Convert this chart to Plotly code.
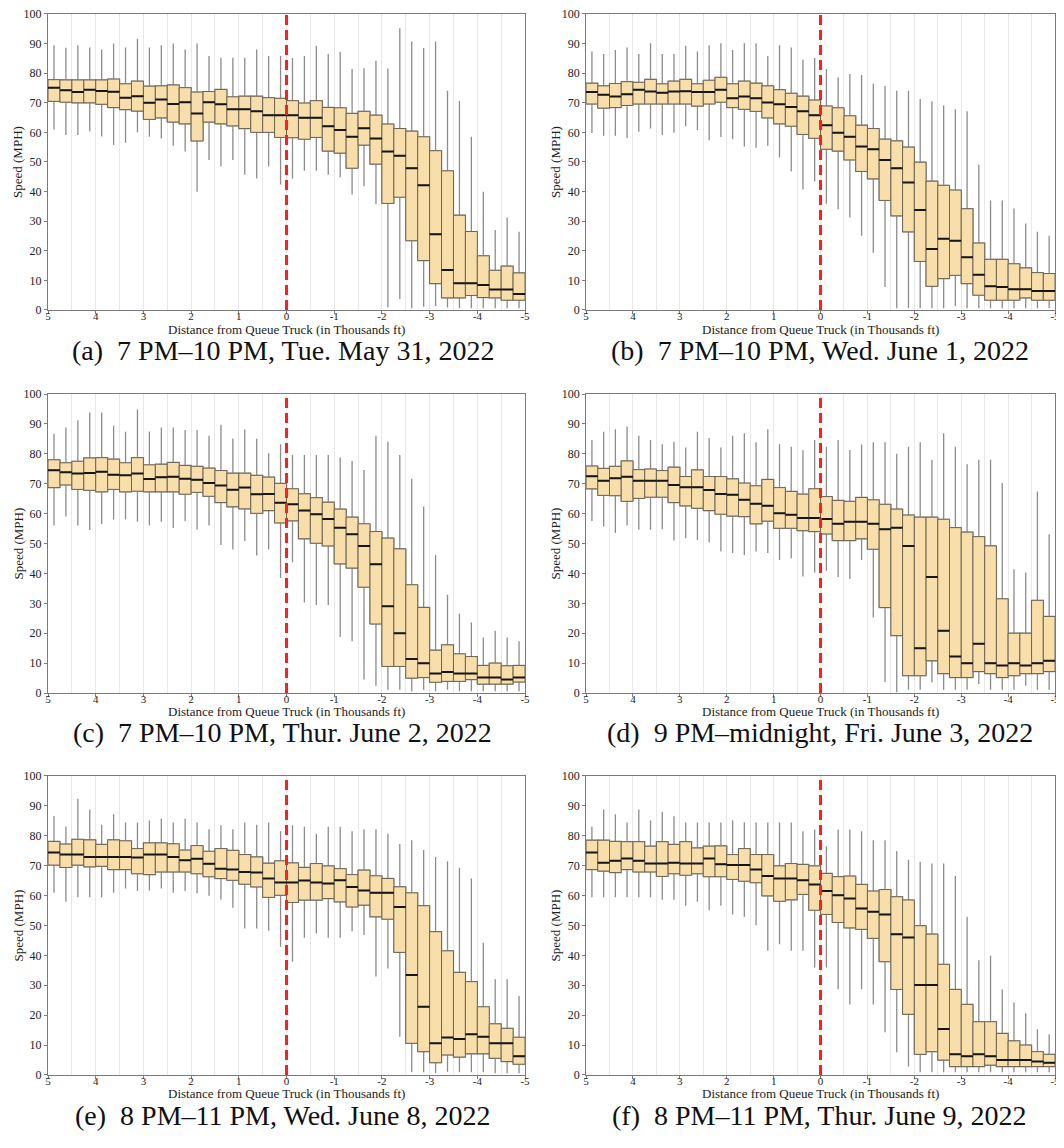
import plotly.graph_objects as go

# Distance bins (thousands of ft from queue truck), 0.25 wide
DIST = [4.875, 4.625, 4.375, 4.125, 3.875, 3.625, 3.375, 3.125, 2.875, 2.625,
        2.375, 2.125, 1.875, 1.625, 1.375, 1.125, 0.875, 0.625, 0.375, 0.125,
        -0.125, -0.375, -0.625, -0.875, -1.125, -1.375, -1.625, -1.875, -2.125, -2.375,
        -2.625, -2.875, -3.125, -3.375, -3.625, -3.875, -4.125, -4.375, -4.625, -4.875]

X_TICKS = [5, 4, 3, 2, 1, 0, -1, -2, -3, -4, -5]
X_TICK_TEXT = ["5", "4", "3", "2", "1", "0", "-1", "-2", "-3", "-4", "-5"]
X_MINOR = [4.5, 3.5, 2.5, 1.5, 0.5, -0.5, -1.5, -2.5, -3.5, -4.5]
Y_TICKS = [0, 10, 20, 30, 40, 50, 60, 70, 80, 90, 100]

X_TITLE = "Distance from Queue Truck (in Thousands ft)"
Y_TITLE = "Speed (MPH)"
CAPTIONS = ["(a)  7 PM\u201310 PM, Tue. May 31, 2022",
            "(b)  7 PM\u201310 PM, Wed. June 1, 2022",
            "(c)  7 PM\u201310 PM, Thur. June 2, 2022",
            "(d)  9 PM\u2013midnight, Fri. June 3, 2022",
            "(e)  8 PM\u201311 PM, Wed. June 8, 2022",
            "(f)  8 PM\u201311 PM, Thur. June 9, 2022"]

# ---- (a) ----
a_hi = [89.4,88.6,89.4,88.7,88.0,90.0,88.7,91.6,88.7,89.4,90.0,88.0,90.0,85.8,85.2,85.2,85.2,88.0,85.8,85.8,
        85.1,85.8,89.3,86.5,87.2,81.4,81.7,84.2,81.6,95.2,90.7,88.5,90.7,74.1,70.6,58.5,39.9,27.0,31.2,26.4]
a_q3 = [77.8,77.7,77.7,77.7,77.7,78.0,76.4,77.3,75.6,75.7,76.0,75.1,73.6,73.8,74.5,72.0,72.2,72.2,71.7,71.5,
        70.7,69.9,70.7,68.4,68.3,66.4,67.1,65.8,62.8,61.3,60.4,58.5,53.8,47.0,32.0,26.5,18.3,13.4,14.8,12.5]
a_med = [75.1,74.2,73.6,74.4,74.0,73.7,71.7,72.2,70.0,71.1,69.6,70.2,66.4,70.2,69.5,67.8,67.8,67.1,65.8,65.8,
         65.8,64.9,64.9,62.1,60.8,58.5,61.4,57.9,53.5,52.1,47.9,42.1,25.6,13.5,9.0,9.0,8.4,6.9,6.9,5.4]
a_q1 = [70.5,70.2,70.0,70.0,69.5,68.4,67.7,67.2,64.4,64.9,63.5,62.9,57.1,63.5,62.9,62.2,61.3,60.0,60.0,58.3,
        58.2,57.7,58.3,53.7,53.0,47.9,55.7,49.3,36.0,38.1,23.4,16.7,8.9,4.1,4.1,4.9,4.2,4.1,3.3,3.3]
a_lo = [61.0,59.1,59.1,60.4,58.6,55.7,56.5,60.0,58.5,57.9,55.5,53.5,39.9,50.7,48.5,50.7,45.7,44.4,48.5,42.4,
        44.3,47.0,47.0,45.7,44.8,39.0,41.8,35.7,0.9,3.7,0.6,1.1,1.3,0.8,0.6,0.6,0.6,0.6,0.6,0.6]

# ---- (b) ----
b_hi = [87.3,86.5,87.8,88.7,86.5,90.1,86.5,86.5,89.3,87.3,89.4,90.1,87.8,90.1,90.1,85.8,89.4,88.7,84.5,85.1,
        81.4,78.6,79.7,79.4,76.4,75.7,74.1,74.1,71.3,70.5,69.1,67.8,67.1,49.1,37.0,37.0,34.3,29.2,26.4,25.1]
b_q3 = [76.6,75.7,76.5,77.1,76.9,77.9,76.4,77.3,77.9,76.4,77.6,78.6,76.4,77.3,76.6,75.7,74.4,73.2,72.2,70.9,
        68.9,68.3,65.6,62.4,61.3,57.7,57.1,55.0,49.9,43.5,42.1,40.5,34.2,22.6,17.1,17.1,15.6,14.2,12.6,12.3]
b_med = [73.6,72.7,72.1,72.9,74.4,73.8,73.4,73.8,73.9,73.6,73.6,74.4,71.5,72.1,71.5,70.1,69.5,68.6,67.1,65.8,
         62.4,59.9,58.5,55.2,54.3,50.7,47.9,43.1,33.8,20.6,24.1,23.4,17.8,11.9,8.0,7.8,7.0,7.0,6.4,6.4]
b_q1 = [69.6,68.2,68.4,69.1,69.6,69.6,69.6,69.6,69.6,68.9,69.6,70.2,68.4,67.8,67.1,64.9,62.9,62.1,59.3,58.0,
        54.3,53.7,50.7,46.8,44.3,37.0,31.8,26.4,16.4,8.0,10.6,11.7,8.9,5.0,3.3,3.3,3.3,4.1,3.3,3.3]
b_lo = [59.8,58.9,58.9,58.0,60.2,61.3,59.1,59.9,62.1,60.8,57.3,58.4,57.7,55.2,54.8,55.5,51.5,46.8,40.7,43.5,
        35.9,34.0,31.2,25.1,19.3,7.8,0.6,0.6,0.6,0.6,0.6,1.3,0.6,0.6,0.6,0.6,0.6,0.6,0.6,0.6]

# ---- (c) ----
c_hi = [86.7,88.8,91.2,93.8,93.8,89.4,87.4,94.8,87.5,88.8,88.8,88.0,88.0,86.0,89.7,85.1,88.1,85.0,80.2,83.2,
        79.6,79.6,79.6,79.6,78.8,77.6,74.6,86.0,84.0,79.6,71.7,62.4,46.2,32.9,26.5,23.6,18.6,20.8,18.6,17.3]
c_q3 = [78.0,77.0,77.5,78.6,78.7,78.2,77.0,78.7,76.3,76.5,77.1,76.1,75.8,75.2,74.4,73.5,73.5,72.8,72.2,70.1,
        68.3,66.6,65.3,63.8,61.5,58.8,56.6,54.0,51.8,48.2,36.2,28.6,14.3,16.1,13.1,12.2,9.2,10.0,9.1,9.2]
c_med = [74.5,73.8,73.4,73.6,74.0,73.0,72.8,73.4,71.6,72.2,72.3,71.7,71.3,70.2,69.4,68.0,68.7,66.5,66.6,63.6,
         63.1,61.0,59.8,58.2,55.3,53.1,49.2,43.1,29.0,20.0,11.4,10.0,6.5,7.0,6.5,6.5,5.2,5.2,4.5,5.2]
c_q1 = [68.7,69.6,68.1,67.8,67.3,68.1,67.3,67.5,67.3,67.3,67.3,66.5,67.1,65.8,63.7,62.3,61.6,60.1,61.0,56.9,
        57.6,51.6,50.1,49.2,43.2,41.8,35.4,23.1,8.9,8.9,5.0,5.2,3.6,3.9,3.9,4.5,3.0,3.0,3.0,3.7]
c_lo = [56.0,59.0,56.0,54.5,56.5,58.0,58.0,57.3,56.0,57.3,55.2,57.5,54.7,56.0,49.5,48.0,50.8,46.0,48.0,38.5,
        43.7,30.3,29.4,29.4,18.7,17.3,4.5,2.4,1.1,1.1,0.6,1.1,0.6,1.1,0.6,0.6,0.6,0.6,0.6,0.6]

# ---- (d) ----
d_hi = [84.6,87.4,88.2,89.1,86.0,84.6,83.2,84.0,82.1,87.4,85.3,82.1,86.0,86.9,83.9,88.2,83.2,82.4,81.2,84.6,
        82.4,84.6,81.3,83.1,83.9,83.9,80.0,82.4,83.9,78.0,86.9,82.4,76.5,78.0,78.0,70.2,41.4,40.3,67.4,53.1]
d_q3 = [75.9,75.1,75.8,77.6,74.7,74.9,74.4,75.5,72.4,74.6,72.4,72.4,71.6,70.2,69.3,71.4,68.7,67.4,66.5,68.3,
        65.7,64.4,64.1,65.4,64.6,63.1,61.5,59.5,58.8,58.8,58.1,55.3,53.8,52.3,49.2,31.5,20.0,20.0,31.0,25.6]
d_med = [72.5,71.0,71.8,72.3,71.0,71.0,71.0,69.6,68.8,68.8,67.9,66.6,66.3,64.6,63.3,62.6,60.1,59.6,58.5,58.5,
         58.2,56.6,57.3,57.3,56.6,54.8,55.3,49.2,15.0,38.8,20.8,12.2,10.0,16.5,10.0,9.2,10.0,9.2,10.0,10.8]
d_q1 = [68.3,66.1,66.0,64.1,65.1,65.5,65.5,63.7,62.6,61.8,61.0,59.8,59.2,59.0,56.6,57.5,55.1,55.1,54.3,54.0,
        53.2,51.0,51.0,51.6,48.1,28.6,19.2,5.8,5.8,10.8,6.5,5.2,5.2,7.2,6.5,5.2,5.8,6.5,6.5,7.2]
d_lo = [57.5,55.7,53.5,56.0,54.6,54.6,54.8,51.0,51.8,51.2,50.3,47.3,46.8,46.2,47.3,46.8,44.5,45.1,39.0,40.3,
        40.9,38.8,38.1,44.5,25.3,3.7,0.3,1.1,1.1,3.5,1.1,1.1,1.1,3.0,1.1,1.1,1.1,2.4,1.1,1.1]

# ---- (e) ----
e_hi = [86.6,83.0,92.4,88.8,83.7,87.2,84.4,84.4,85.1,85.7,84.4,85.7,84.4,82.2,83.5,82.2,84.4,83.7,84.4,81.5,
        83.5,83.0,80.7,83.0,83.0,81.5,82.2,82.2,80.7,77.2,78.5,75.2,72.9,71.5,69.3,65.7,44.2,32.0,32.0,26.4]
e_q3 = [78.1,77.2,78.8,78.6,77.1,78.6,78.3,75.7,77.6,77.6,77.3,75.2,76.7,74.8,75.7,75.1,73.7,72.9,70.8,71.6,
        70.9,69.4,70.7,69.9,69.0,67.0,68.5,66.6,65.7,62.9,60.9,56.6,47.9,41.5,34.3,31.2,22.8,17.1,15.6,12.6]
e_med = [74.4,73.7,73.7,72.9,72.9,72.9,72.9,72.7,73.7,73.7,72.9,71.8,72.3,70.6,69.0,68.7,67.9,67.7,65.7,64.4,
         64.4,65.0,64.4,64.0,65.1,62.9,61.7,60.9,60.9,56.2,33.4,22.8,10.6,12.5,12.0,13.6,12.8,10.6,10.6,6.3]
e_q1 = [70.2,69.4,70.2,69.6,69.8,68.7,68.7,67.3,67.0,67.9,67.9,67.9,67.3,66.3,65.7,65.1,63.8,62.9,59.4,60.1,
        57.7,58.5,58.5,59.0,57.9,56.2,56.8,52.9,52.1,41.0,10.6,7.8,4.1,6.7,6.0,7.1,7.1,5.6,4.5,3.6]
e_lo = [60.9,57.9,59.4,59.4,59.4,60.9,62.4,61.5,61.7,62.4,60.9,61.5,60.8,59.9,58.6,55.9,49.0,49.0,48.2,42.9,
        37.9,45.9,47.3,45.9,45.9,48.1,46.8,32.9,35.6,12.8,0.9,0.9,0.6,1.1,0.9,0.9,0.9,0.6,0.6,0.6]

# ---- (f) ----
f_hi = [83.0,88.8,87.2,84.4,88.8,85.1,88.0,86.5,84.4,84.4,84.4,84.4,85.2,84.4,84.4,84.4,84.4,84.4,81.5,82.1,
        76.5,82.1,82.1,81.5,78.5,78.5,74.9,72.0,71.3,70.7,70.7,66.5,52.9,38.4,39.9,28.6,24.2,20.6,15.3,13.6]
f_q3 = [78.5,78.5,78.1,78.0,78.0,76.5,78.0,77.1,78.0,75.9,76.5,76.6,73.7,75.7,73.7,73.7,69.9,70.7,70.4,69.9,
        67.4,66.3,66.5,63.7,61.5,62.0,59.6,58.5,49.9,47.1,37.0,28.6,23.6,17.8,17.8,13.9,11.4,10.0,7.8,6.9]
f_med = [74.4,71.0,71.6,72.4,71.6,70.7,70.7,71.0,70.7,70.7,72.4,70.5,70.2,70.2,68.7,66.5,65.7,65.7,65.1,63.7,
         61.5,60.1,59.0,55.7,54.6,53.7,47.1,46.0,30.1,30.1,15.4,6.9,6.3,6.9,6.3,5.0,5.0,5.0,4.5,4.1]
f_q1 = [68.7,68.2,67.7,68.7,67.9,67.9,66.4,67.3,66.8,67.3,66.3,66.3,65.4,64.8,64.3,59.9,58.1,58.6,60.4,55.1,
        53.7,51.0,49.2,48.7,45.7,37.9,28.6,20.3,6.9,7.8,5.0,2.8,2.8,2.8,3.3,2.8,2.8,2.8,2.8,2.8]
f_lo = [59.4,59.4,59.4,59.4,59.4,59.4,58.6,58.6,56.6,57.9,55.1,56.6,53.7,52.9,50.1,41.5,43.7,41.5,41.5,35.9,
        35.9,28.7,23.6,28.7,23.6,14.3,7.6,2.8,0.9,0.9,0.9,0.9,0.9,0.9,0.9,0.9,0.9,0.9,0.9,0.9]

PANELS = [
    (a_q1, a_med, a_q3, a_lo, a_hi),
    (b_q1, b_med, b_q3, b_lo, b_hi),
    (c_q1, c_med, c_q3, c_lo, c_hi),
    (d_q1, d_med, d_q3, d_lo, d_hi),
    (e_q1, e_med, e_q3, e_lo, e_hi),
    (f_q1, f_med, f_q3, f_lo, f_hi),
]

# ---- styling ----
FONT = "Liberation Serif, Times New Roman, serif"
FILL = "#F8DEAA"
BOX_LINE = "#6e6656"
WHISKER = "#8c8c8c"
MEDIAN = "#151515"
AXIS_COL = "#7a7a7a"
GRID_COL = "#e8e8e8"
TXT = "#222222"

# figure sits inside the page's 8px body margin
W, H = 1056, 1128
X_DOM = [[0.0379, 0.4896], [0.5474, 0.9915]]
Y_DOM = [[0.7323, 0.9947], [0.3927, 0.6578], [0.0541, 0.3192]]
CAP_X = [0.2604, 0.7689]
CAP_Y = [0.6963, 0.3576, 0.0181]
XT_Y = [0.7150, 0.3763, 0.0376]
YT_X = [0.0095, 0.5189]

fig = go.Figure()
layout = dict(
    width=W, height=H,
    margin=dict(l=0, r=0, t=0, b=0, autoexpand=False),
    paper_bgcolor="white", plot_bgcolor="white",
    showlegend=False, boxmode="overlay",
    font=dict(family=FONT, color=TXT, size=12),
)
annotations = []
shapes = []

for i, (q1, med, q3, lo, hi) in enumerate(PANELS):
    row, col = divmod(i, 2)
    n = "" if i == 0 else str(i + 1)
    xa, ya = "x" + n, "y" + n
    # whiskers
    fig.add_trace(go.Box(x=DIST, q1=q1, median=med, q3=q3, lowerfence=lo, upperfence=hi,
                         width=0.25, whiskerwidth=0, boxpoints=False,
                         line=dict(color=WHISKER, width=1.3), fillcolor="rgba(0,0,0,0)",
                         hoverinfo="skip", xaxis=xa, yaxis=ya))
    # boxes
    fig.add_trace(go.Box(x=DIST, q1=q1, median=med, q3=q3, lowerfence=q1, upperfence=q3,
                         width=0.25, whiskerwidth=0, boxpoints=False,
                         line=dict(color=BOX_LINE, width=1), fillcolor=FILL,
                         hoverinfo="skip", xaxis=xa, yaxis=ya))
    # medians
    fig.add_trace(go.Box(x=DIST, q1=med, median=med, q3=med, lowerfence=med, upperfence=med,
                         width=0.25, whiskerwidth=0, boxpoints=False,
                         line=dict(color=MEDIAN, width=2), fillcolor="rgba(0,0,0,0)",
                         hoverinfo="skip", xaxis=xa, yaxis=ya))

    layout["xaxis" + n] = dict(
        domain=X_DOM[col], anchor=ya, range=[5, -5], automargin=False,
        tickmode="array", tickvals=X_TICKS, ticktext=X_TICK_TEXT,
        ticks="outside", ticklen=3, tickcolor=AXIS_COL, ticklabelstandoff=-7,
        ticklabeloverflow="allow",
        showline=True, linecolor=AXIS_COL, linewidth=1, mirror=True,
        showgrid=True, gridcolor=GRID_COL, gridwidth=1, zeroline=False,
        minor=dict(tickvals=X_MINOR, showgrid=True, gridcolor=GRID_COL, gridwidth=1, ticks=""),
        tickfont=dict(family=FONT, size=11, color=TXT),
    )
    layout["yaxis" + n] = dict(
        domain=Y_DOM[row], anchor=xa, range=[0, 100], automargin=False,
        tickmode="array", tickvals=Y_TICKS, ticklabeloverflow="allow",
        ticks="outside", ticklen=3, tickcolor=AXIS_COL,
        showline=True, linecolor=AXIS_COL, linewidth=1, mirror=True,
        showgrid=False, zeroline=False,
        tickfont=dict(family=FONT, size=12, color=TXT),
    )
    shapes.append(dict(type="line", xref=xa, yref=ya, x0=0, x1=0, y0=0, y1=100,
                       line=dict(color="#ff1e1e", width=3, dash="10px,5px"), layer="above"))
    # axis titles
    annotations.append(dict(text=X_TITLE, xref="paper", yref="paper",
                            x=sum(X_DOM[col]) / 2, y=XT_Y[row], xanchor="center", yanchor="middle",
                            showarrow=False, font=dict(family=FONT, size=13, color=TXT)))
    annotations.append(dict(text=Y_TITLE, xref="paper", yref="paper", textangle=-90,
                            x=YT_X[col], y=sum(Y_DOM[row]) / 2, xanchor="center", yanchor="middle",
                            showarrow=False, font=dict(family=FONT, size=13, color=TXT)))
    # caption
    annotations.append(dict(text=CAPTIONS[i], xref="paper", yref="paper",
                            x=CAP_X[col], y=CAP_Y[row], xanchor="center", yanchor="middle",
                            showarrow=False, font=dict(family=FONT, size=28, color="#111111")))

layout["shapes"] = shapes
layout["annotations"] = annotations
fig.update_layout(**layout)
fig.write_html("out.html")
